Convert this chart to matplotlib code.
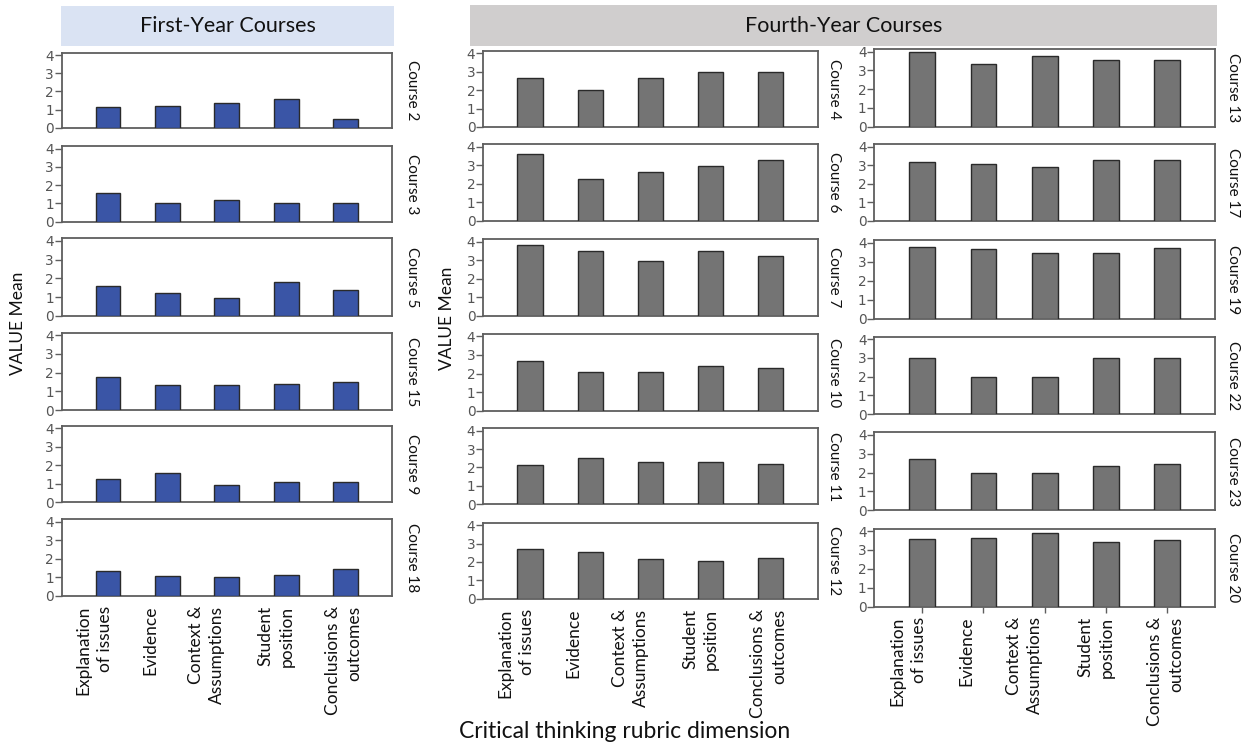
import matplotlib
matplotlib.use("Agg")
import matplotlib.pyplot as plt
from matplotlib.patches import Rectangle
from matplotlib.transforms import ScaledTranslation
import numpy as np

# ---------------- data ----------------
categories = ["Explanation\nof issues", "Evidence", "Context &\nAssumptions",
              "Student\nposition", "Conclusions &\noutcomes"]

first_year_courses = ["Course 2", "Course 3", "Course 5", "Course 15", "Course 9", "Course 18"]
first_year_values = [
    [1.14, 1.21, 1.39, 1.56, 0.50],
    [1.58, 1.00, 1.18, 1.00, 1.00],
    [1.59, 1.20, 0.94, 1.79, 1.38],
    [1.76, 1.32, 1.34, 1.38, 1.49],
    [1.27, 1.60, 0.96, 1.12, 1.12],
    [1.31, 1.09, 1.02, 1.11, 1.44],
]

fourth_year_a_courses = ["Course 4", "Course 6", "Course 7", "Course 10", "Course 11", "Course 12"]
fourth_year_a_values = [
    [2.64, 1.99, 2.64, 2.99, 2.99],
    [3.60, 2.28, 2.62, 2.95, 3.28],
    [3.82, 3.49, 2.95, 3.49, 3.25],
    [2.68, 2.09, 2.09, 2.40, 2.31],
    [2.15, 2.50, 2.28, 2.30, 2.18],
    [2.69, 2.56, 2.17, 2.06, 2.20],
]

fourth_year_b_courses = ["Course 13", "Course 17", "Course 19", "Course 22", "Course 23", "Course 20"]
fourth_year_b_values = [
    [4.00, 3.34, 3.77, 3.57, 3.57],
    [3.19, 3.08, 2.90, 3.31, 3.31],
    [3.77, 3.66, 3.48, 3.48, 3.70],
    [3.00, 1.99, 1.99, 3.00, 3.00],
    [2.71, 1.98, 1.98, 2.34, 2.48],
    [3.58, 3.66, 3.89, 3.44, 3.53],
]

y_ticks = [0, 1, 2, 3, 4]

# ---------------- layout ----------------
W, H = 1246, 745
fig = plt.figure(figsize=(W / 100, H / 100), dpi=100)
fig.patch.set_facecolor("white")

FONT = "Lato"
BLUE = "#3A55A6"
GREY = "#747474"
EDGE = "#2a2a2a"
FRAME = "#5e5e5e"
TICKC = "#555555"

columns = [
    dict(courses=first_year_courses, values=first_year_values, color=BLUE,
         left=61.7, right=391.7,
         tops=[52.7, 146.0, 238.3, 332.7, 425.7, 519.0],
         bottoms=[127.7, 221.7, 315.7, 410.0, 502.3, 595.7],
         label_x=412, bottom_ticks=False),
    dict(courses=fourth_year_a_courses, values=fourth_year_a_values, color=GREY,
         left=483.0, right=817.7,
         tops=[50.7, 144.3, 239.3, 333.7, 428.0, 522.7],
         bottoms=[127.0, 221.0, 316.0, 411.0, 504.3, 598.7],
         label_x=834, bottom_ticks=False),
    dict(courses=fourth_year_b_courses, values=fourth_year_b_values, color=GREY,
         left=874.3, right=1215.0,
         tops=[49.0, 144.3, 240.0, 336.7, 432.3, 528.5],
         bottoms=[126.7, 221.0, 318.7, 414.0, 510.3, 606.5],
         label_x=1233, bottom_ticks=True),
]

label_offsets_px = [-14, -17, -20, -10, -2]
x = np.arange(len(categories))

for col in columns:
    n = len(col["courses"])
    for i in range(n):
        l = col["left"] / W
        w = (col["right"] - col["left"]) / W
        b = 1 - col["bottoms"][i] / H
        h = (col["bottoms"][i] - col["tops"][i]) / H
        ax = fig.add_axes([l, b, w, h])
        ax.bar(x, col["values"][i], width=0.42, color=col["color"],
               edgecolor=EDGE, linewidth=1.0, zorder=3)
        ax.set_xlim(-0.78, len(categories) - 1 + 0.78)
        ax.set_ylim(0, 4.14)
        ax.set_yticks(y_ticks)
        ax.set_yticklabels([str(t) for t in y_ticks], family="DejaVu Sans",
                           fontsize=9.8, color=TICKC)
        ax.tick_params(axis="y", length=5, width=1.0, color=FRAME, pad=0.5)
        for sp in ax.spines.values():
            sp.set_color(FRAME)
            sp.set_linewidth(1.3)
        last = (i == n - 1)
        if last and col["bottom_ticks"]:
            ax.set_xticks(x)
            ax.set_xticklabels([])
            ax.tick_params(axis="x", length=4, width=1.0, color=FRAME)
        else:
            ax.set_xticks([])
        yc = (col["tops"][i] + col["bottoms"][i]) / 2
        fig.text(col["label_x"] / W, 1 - yc / H, col["courses"][i],
                 rotation=-90, ha="center", va="center",
                 family=FONT, fontsize=11, color="#111111")
        if last:
            for k, cat in enumerate(categories):
                off = ScaledTranslation(label_offsets_px[k] / 100, -10 / 100,
                                        fig.dpi_scale_trans)
                ax.text(x[k], 0, cat, transform=ax.get_xaxis_transform() + off,
                        rotation=90, ha="center", va="top",
                        multialignment="right", family=FONT, fontsize=12.5,
                        color="#111111", linespacing=1.4)

# header boxes
fig.patches.append(Rectangle((61 / W, 1 - 45.7 / H), (394 - 61) / W, (45.7 - 6) / H,
                             transform=fig.transFigure, facecolor="#DAE3F3",
                             edgecolor="none", zorder=0))
fig.text((61 + 394) / 2 / W, 1 - 26 / H, "First-Year Courses", ha="center",
         va="center", family=FONT, fontsize=15.5, color="#111111")
fig.patches.append(Rectangle((470 / W, 1 - 45.7 / H), (1216.7 - 470) / W, (45.7 - 5.3) / H,
                             transform=fig.transFigure, facecolor="#D0CECE",
                             edgecolor="none", zorder=0))
fig.text(843.5 / W, 1 - 26 / H, "Fourth-Year Courses", ha="center",
         va="center", family=FONT, fontsize=15.5, color="#111111")

# axis titles
fig.text(18 / W, 1 - 323 / H, "VALUE Mean", rotation=90, ha="center", va="center",
         family=FONT, fontsize=12.5, color="#111111")
fig.text(447 / W, 1 - 318 / H, "VALUE Mean", rotation=90, ha="center", va="center",
         family=FONT, fontsize=12.5, color="#111111")
fig.text(625 / W, 1 - 731 / H, "Critical thinking rubric dimension", ha="center",
         va="center", family=FONT, fontsize=16.5, color="#111111")

fig.savefig("out.png", dpi=100, facecolor="white")
